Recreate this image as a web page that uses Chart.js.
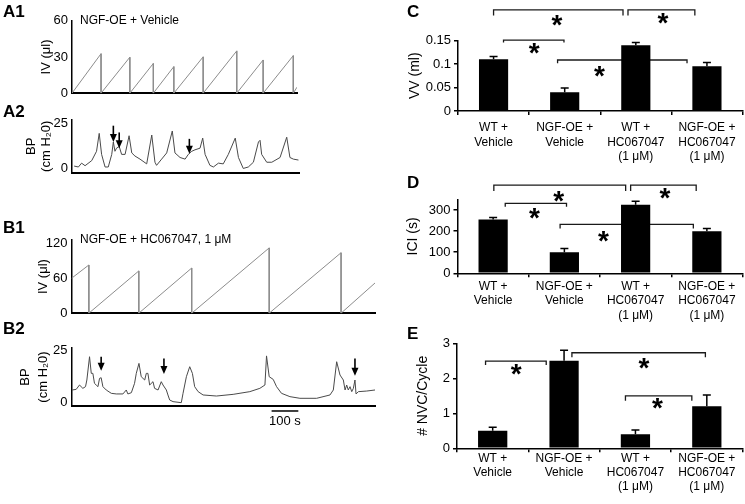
<!DOCTYPE html>
<html>
<head>
<meta charset="utf-8">
<script src="https://cdn.jsdelivr.net/npm/chart.js@4.4.1/dist/chart.umd.min.js"></script>
<style>
  body { margin: 0; background: #fff; }
  #fig { position: relative; width: 745px; height: 504px; overflow: hidden; background: #fff;
         font-family: "Liberation Sans", Arial, sans-serif; color: #000; }
  #fig canvas { position: absolute; }
  .lbl { position: absolute; font-size: 17px; line-height: 17px; font-weight: bold; }
  .ttl { position: absolute; font-size: 12px; line-height: 14px; white-space: nowrap; }
</style>
</head>
<body>
<div id="fig">
  <canvas id="a1" width="310" height="105" style="left:0;top:0"></canvas>
  <canvas id="a2" width="310" height="80" style="left:0;top:105px"></canvas>
  <canvas id="b1" width="385" height="100" style="left:0;top:225px"></canvas>
  <canvas id="b2" width="385" height="100" style="left:0;top:330px"></canvas>
  <canvas id="c" width="365" height="165" style="left:380px;top:0"></canvas>
  <canvas id="d" width="365" height="165" style="left:380px;top:165px"></canvas>
  <canvas id="e" width="365" height="174" style="left:380px;top:330px"></canvas>

  <div class="lbl" style="left:3px;top:3px">A1</div>
  <div class="lbl" style="left:3px;top:103px">A2</div>
  <div class="lbl" style="left:3px;top:219px">B1</div>
  <div class="lbl" style="left:3px;top:320px">B2</div>
  <div class="lbl" style="left:407px;top:3px">C</div>
  <div class="lbl" style="left:407px;top:174px">D</div>
  <div class="lbl" style="left:407px;top:325px">E</div>
  <div class="ttl" style="left:80px;top:13px">NGF-OE + Vehicle</div>
  <div class="ttl" style="left:80px;top:232px">NGF-OE + HC067047, 1 μM</div>
</div>
<script>
// A1 - infused volume, NGF-OE + vehicle: void times (s) and volume reached (µl)
const a1VoidT = [109, 217, 305, 382, 492, 618, 717, 830];
const a1PeakV = [32.7, 29.8, 24.6, 22.0, 30.1, 35.0, 27.5, 31.1];
const a1Ticks = [0, 30, 60];

// A2 - bladder pressure (cm H2O)
const a2T = [8, 24, 36, 49, 74, 92, 102, 111, 124, 136, 149, 155, 161, 167, 177, 186, 199, 214, 224, 236,
  255, 280, 299, 311, 317, 336, 355, 376, 386, 405, 424, 436, 449, 461, 480, 490, 499, 517, 530, 549,
  567, 586, 612, 624, 642, 661, 680, 699, 705, 711, 730, 749, 780, 805, 817, 830, 849];
const a2P = [1.4, 0.9, 3.0, 1.6, 4.4, 9.5, 19.3, 7.8, 0.9, 0.9, 7.8, 14.6, 9.5, 11.2, 12.1, 7.8, 7.8, 18.0, 8.6, 6.9,
  5.2, 2.6, 18.4, 3.5, 1.8, 5.2, 8.6, 20.6, 8.6, 6.1, 5.2, 7.8, 9.5, 10.3, 11.2, 16.7, 7.8, 1.8, 0.9, 3.0,
  2.6, 7.8, 16.7, 6.1, 0.1, 0.9, 3.5, 14.6, 15.5, 7.8, 3.5, 3.5, 6.1, 17.2, 6.1, 5.2, 4.7];
const a2Arrows = [[155, 23.5, 14.6], [177, 19.8, 11.2], [440, 16.3, 8.1]];
const bpTicks = [0, 25];

// B1 - infused volume, NGF-OE + HC067047
const b1VoidT = [65, 252, 450, 740, 1009];
const b1PeakV = [83.0, 72.8, 77.8, 112.4, 104.1];
const b1Ticks = [0, 60, 120];

// B2 - bladder pressure
const b2T = [2.5, 17.5, 30, 42.5, 52.5, 57.5, 67.5, 74, 80, 86, 92.5, 99, 105, 111, 117.5, 130, 149, 167.5, 192.5, 205,
  211, 224, 236, 242.5, 252.5, 261, 274, 280, 286, 292.5, 305, 311, 324, 336, 342.5, 355, 361, 367.5, 380, 411,
  417.5, 430, 442.5, 452.5, 461, 474, 492.5, 542.5, 605, 667.5, 705, 724, 730, 740, 755, 767.5, 786, 817.5, 855, 917.5,
  967.5, 980, 992.5, 1005, 1017.5, 1024, 1030, 1036, 1042.5, 1049, 1055, 1061, 1065, 1074, 1105, 1136];
const b2P = [6.1, 6.4, 8.5, 6.9, 7.7, 10.9, 22.1, 14.1, 14.1, 9.3, 8.5, 7.7, 11.7, 12.0, 7.7, 6.1, 4.5, 4.2, 4.2, 6.1,
  4.2, 4.8, 9.3, 14.1, 18.9, 12.5, 10.9, 14.1, 14.1, 8.5, 10.1, 6.9, 6.1, 10.1, 8.5, 6.1, 3.7, 1.3, 0.5, 0,
  4.5, 12.5, 17.3, 14.1, 7.7, 5.3, 3.7, 3.2, 4.0, 5.3, 6.9, 8.5, 22.5, 12.5, 11.2, 7.7, 4.5, 2.9, 2.1, 2.1,
  3.7, 6.1, 19.7, 13.3, 10.9, 6.1, 8.5, 6.1, 7.7, 5.3, 6.9, 10.9, 4.2, 5.3, 5.6, 6.1];
const b2Arrows = [[111, 22.1, 15.4], [346, 21.3, 13.8], [1061, 21.3, 13.0]];

// C-E - group means and SEM
const groups = [['WT +', 'Vehicle'], ['NGF-OE +', 'Vehicle'], ['WT +', 'HC067047', '(1 μM)'], ['NGF-OE +', 'HC067047', '(1 μM)']];
const vvMean = [0.11, 0.04, 0.14, 0.095];
const vvSem = [0.006, 0.009, 0.006, 0.008];
const vvTicks = [0, 0.05, 0.1, 0.15];
const iciMean = [255, 100, 325, 200];
const iciSem = [10, 18, 17, 13];
const iciTicks = [0, 100, 200, 300];
const nvcMean = [0.5, 2.5, 0.4, 1.2];
const nvcSem = [0.1, 0.3, 0.12, 0.32];
const nvcTicks = [0, 1, 2, 3];

// significance brackets: [from group, to group, y, leg end], stars: [group pos, y]
const cBrackets = [[0, 1.82, 0.215, 0.203], [1.89, 2.83, 0.215, 0.203], [0.14, 0.99, 0.151, 0.146], [0.9, 2.72, 0.1085, 0.1015]];
const cStars = [[0.89, 0.192], [2.38, 0.197], [0.57, 0.133], [1.49, 0.084]];
const dBrackets = [[0.01, 1.86, 418, 390], [1.93, 2.85, 418, 390], [0.17, 1.03, 332, 316], [0.94, 2.81, 232, 213]];
const dStars = [[0.92, 363], [2.41, 379], [0.58, 284], [1.55, 173]];
const eBrackets = [[-0.1, 0.75, 2.49, 2.38], [1.11, 2.98, 2.73, 2.6], [1.86, 2.79, 1.5, 1.36]];
const eStars = [[0.33, 2.24], [2.12, 2.43], [2.31, 1.27]];

const FONT = '"Liberation Sans", Arial, sans-serif';
Chart.defaults.font.family = FONT;
Chart.defaults.color = '#000';

function sawtooth(startV, voidT, peakV, endT, endV) {
  const pts = [{x: 0, y: startV}];
  voidT.forEach((t, i) => pts.push({x: t, y: peakV[i]}, {x: t, y: 0}));
  pts.push({x: endT, y: endV});
  return pts;
}
const zipXY = (xs, ys) => xs.map((x, i) => ({x, y: ys[i]}));

// arrows and the time scale bar on the traces
const marks = {
  id: 'marks',
  afterDraw(chart, args, o) {
    const {ctx} = chart, x = chart.scales.x, y = chart.scales.y;
    ctx.save();
    ctx.strokeStyle = '#000';
    ctx.fillStyle = '#000';
    (o.arrows || []).forEach(([t, from, tip]) => {
      const px = x.getPixelForValue(t), y0 = y.getPixelForValue(from), y1 = y.getPixelForValue(tip);
      ctx.lineWidth = 1.6;
      ctx.beginPath(); ctx.moveTo(px, y0); ctx.lineTo(px, y1 - 6); ctx.stroke();
      ctx.beginPath(); ctx.moveTo(px - 3.5, y1 - 8); ctx.lineTo(px + 3.5, y1 - 8); ctx.lineTo(px, y1); ctx.closePath(); ctx.fill();
    });
    if (o.bar) {
      const yb = y.getPixelForValue(o.bar.v);
      ctx.lineWidth = 1.5;
      ctx.beginPath(); ctx.moveTo(x.getPixelForValue(o.bar.t0), yb); ctx.lineTo(x.getPixelForValue(o.bar.t1), yb); ctx.stroke();
      ctx.font = '13px ' + FONT;
      ctx.textAlign = 'center';
      ctx.textBaseline = 'middle';
      ctx.fillText(o.bar.text, x.getPixelForValue((o.bar.t0 + o.bar.t1) / 2), y.getPixelForValue(o.bar.textV));
    }
    ctx.restore();
  }
};

function traceChart(id, o) {
  return new Chart(document.getElementById(id), {
    type: 'line',
    data: {datasets: [{data: o.points, borderColor: o.color, borderWidth: 1, pointRadius: 0, tension: 0, fill: false}]},
    options: {
      responsive: false, animation: false, events: [],
      layout: {padding: {top: o.top, right: o.right, left: 0, bottom: 0}},
      plugins: {legend: {display: false}, tooltip: {enabled: false}, marks: {arrows: o.arrows, bar: o.bar}},
      scales: {
        x: {type: 'linear', min: 0, max: o.xMax, ticks: {display: false}, grid: {display: false, drawTicks: false},
            border: {color: '#000', width: 2}, afterFit: s => { s.height = o.xh; }},
        y: {min: o.yMin, max: o.yMax,
            afterBuildTicks: s => { s.ticks = o.yTicks.map(v => ({value: v})); },
            ticks: {font: {size: 13}, padding: 4, callback: v => String(v)},
            grid: {display: false, drawTicks: false},
            border: {color: '#000', width: 1.5},
            title: {display: true, text: o.yTitle, font: {size: 13, lineHeight: o.titleLH || 1.2}, padding: {top: o.titlePad, bottom: 0}},
            afterFit: s => { s.width = o.left; }}
      }
    },
    plugins: [marks]
  });
}

// error bars, brackets and asterisks on the bar panels
const sigMarks = {
  id: 'sigMarks',
  beforeDatasetsDraw(chart, args, o) {
    const {ctx} = chart, x = chart.scales.x, y = chart.scales.y;
    const c0 = x.getPixelForValue(0), cw = x.getPixelForValue(1) - c0;
    ctx.save();
    ctx.strokeStyle = '#1a1a1a';
    ctx.lineWidth = 1.3;
    o.brackets.forEach(([a, b, v, leg]) => {
      const yy = y.getPixelForValue(v), yl = y.getPixelForValue(leg);
      ctx.beginPath();
      ctx.moveTo(c0 + a * cw, yl); ctx.lineTo(c0 + a * cw, yy);
      ctx.lineTo(c0 + b * cw, yy); ctx.lineTo(c0 + b * cw, yl);
      ctx.stroke();
    });
    ctx.restore();
  },
  afterDatasetsDraw(chart, args, o) {
    const {ctx} = chart, x = chart.scales.x, y = chart.scales.y;
    const c0 = x.getPixelForValue(0), cw = x.getPixelForValue(1) - c0;
    const vals = chart.data.datasets[0].data;
    ctx.save();
    ctx.strokeStyle = '#000';
    ctx.fillStyle = '#000';
    ctx.lineWidth = 1.5;
    chart.getDatasetMeta(0).data.forEach((bar, i) => {
      const top = y.getPixelForValue(vals[i] + o.errors[i]);
      ctx.beginPath();
      ctx.moveTo(bar.x, bar.y); ctx.lineTo(bar.x, top);
      ctx.moveTo(bar.x - 4, top); ctx.lineTo(bar.x + 4, top);
      ctx.stroke();
    });
    ctx.font = 'bold 28px ' + FONT;
    ctx.textAlign = 'center';
    ctx.textBaseline = 'alphabetic';
    const m = ctx.measureText('*');
    const dy = (m.actualBoundingBoxAscent - m.actualBoundingBoxDescent) / 2;
    o.stars.forEach(([i, v]) => ctx.fillText('*', c0 + i * cw, y.getPixelForValue(v) + dy));
    ctx.restore();
  }
};

function barChart(id, o) {
  return new Chart(document.getElementById(id), {
    type: 'bar',
    data: {labels: groups, datasets: [{data: o.mean, backgroundColor: '#000', borderWidth: 0, categoryPercentage: 1, barPercentage: 0.41}]},
    options: {
      responsive: false, animation: false, events: [],
      layout: {padding: {top: o.top, right: 2.5, left: 0, bottom: 0}},
      plugins: {legend: {display: false}, tooltip: {enabled: false},
                sigMarks: {errors: o.sem, brackets: o.brackets, stars: o.stars}},
      scales: {
        x: {grid: {drawOnChartArea: false, tickLength: 4, color: '#000', lineWidth: 1.5},
            border: {color: '#000', width: 1.5},
            ticks: {font: {size: 12}, padding: o.labelPad, maxRotation: 0, autoSkip: false},
            afterFit: s => { s.height = o.xh; }},
        y: {min: 0, max: o.yMax,
            afterBuildTicks: s => { s.ticks = o.ticks.map(v => ({value: v})); },
            grid: {drawOnChartArea: false, tickLength: 4, color: '#000', lineWidth: 1.5},
            border: {color: '#000', width: 1.5},
            ticks: {font: {size: 13}, padding: 3, callback: v => String(v)},
            title: {display: true, text: o.yTitle, font: {size: 14}, padding: {top: o.titlePad, bottom: 0}},
            afterFit: s => { s.width = o.left; }}
      }
    },
    plugins: [sigMarks]
  });
}

traceChart('a1', {points: sawtooth(0, a1VoidT, a1PeakV, 844, 5), color: '#8c8c8c', xMax: 844,
  yMin: 0, yMax: 60, yTicks: a1Ticks, yTitle: 'IV (μl)', titlePad: 39, left: 72, top: 20.7, right: 13, xh: 7.5});
traceChart('a2', {points: zipXY(a2T, a2P), color: '#4a4a4a', xMax: 851, arrows: a2Arrows,
  yMin: -2.5, yMax: 27, yTicks: bpTicks, yTitle: ['BP', '(cm H₂0)'], titleLH: 1.15, titlePad: 24, left: 72, top: 14.3, right: 11, xh: 8.3});
traceChart('b1', {points: sawtooth(60, b1VoidT, b1PeakV, 1136, 52), color: '#8c8c8c', xMax: 1136,
  yMin: 0, yMax: 126, yTicks: b1Ticks, yTitle: 'IV (μl)', titlePad: 35.5, left: 71.5, top: 15, right: 10, xh: 8.5});
traceChart('b2', {points: zipXY(b2T, b2P), color: '#4a4a4a', xMax: 1136, arrows: b2Arrows,
  bar: {t0: 749, t1: 849, v: -4, text: '100 s', textV: -9},
  yMin: -1.6, yMax: 26.3, yTicks: bpTicks, yTitle: ['BP', '(cm H₂0)'], titleLH: 1.4, titlePad: 16, left: 71.5, top: 18, right: 10, xh: 24});

barChart('c', {mean: vvMean, sem: vvSem, ticks: vvTicks, yMax: 0.15, yTitle: 'VV (ml)', titlePad: 26.6,
  brackets: cBrackets, stars: cStars, left: 78, top: 40.5, xh: 54, labelPad: 5.8});
barChart('d', {mean: iciMean, sem: iciSem, ticks: iciTicks, yMax: 350, yTitle: 'ICI (s)', titlePad: 25,
  brackets: dBrackets, stars: dStars, left: 77.5, top: 34.5, xh: 56.7, labelPad: 2.2});
barChart('e', {mean: nvcMean, sem: nvcSem, ticks: nvcTicks, yMax: 3, yTitle: '# NVC/Cycle', titlePad: 35,
  brackets: eBrackets, stars: eStars, left: 77, top: 13.3, xh: 55.7, labelPad: -1.2});
</script>
</body>
</html>
